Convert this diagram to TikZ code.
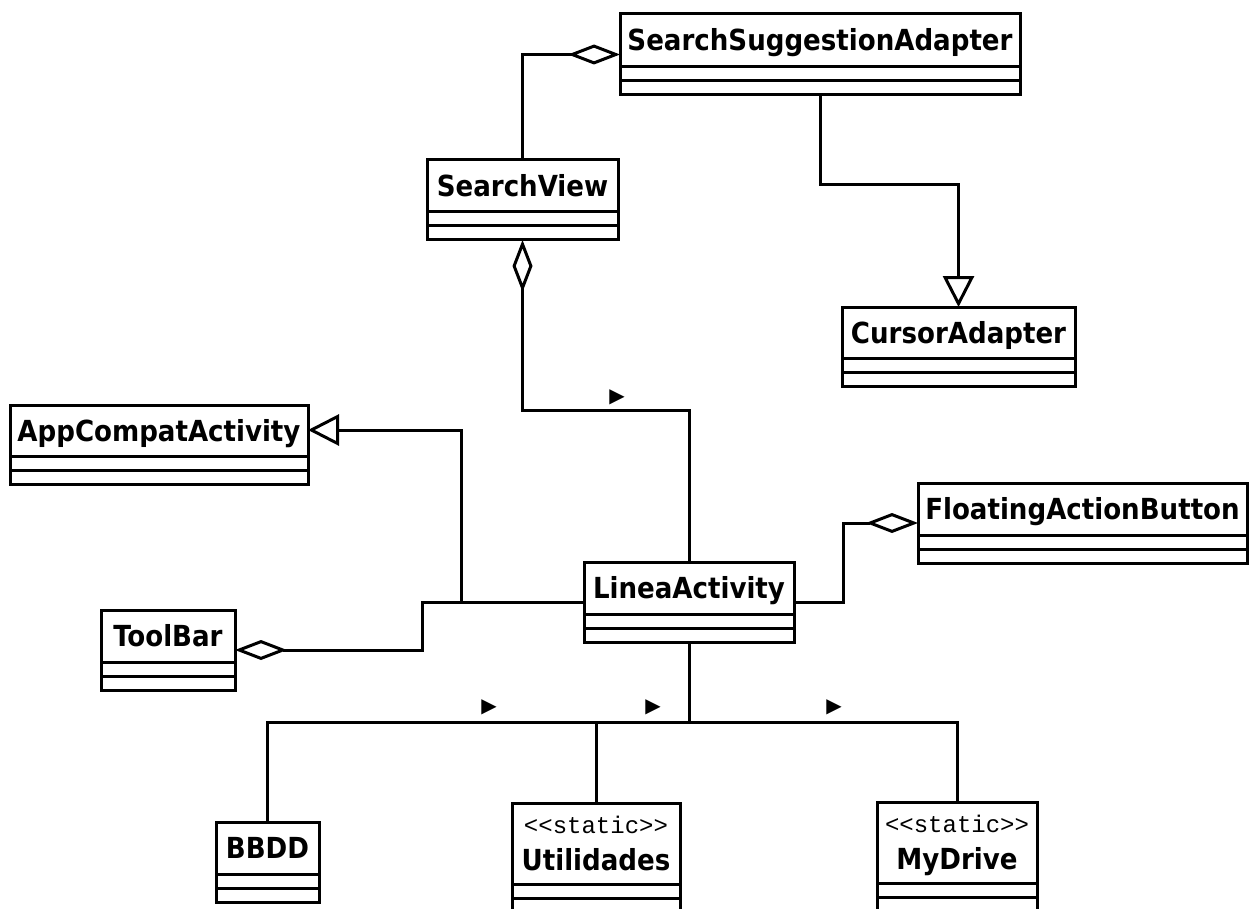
\documentclass[tikz,border=0pt]{standalone}
\usepackage{fontspec}
\setmainfont{DejaVu Sans}
\newfontfamily\classfont{DejaVu Sans Condensed}
\newfontfamily\stereofont{Liberation Mono}
\usetikzlibrary{arrows.meta}

\tikzset{
  classbox/.style={draw, line width=3pt, inner sep=0pt, outer sep=0pt, anchor=north west, fill=white},
  sepline/.style={line width=3pt},
  classname/.style={font=\classfont\bfseries\fontsize{29}{33}\selectfont, inner sep=0pt, anchor=base},
  stereotype/.style={font=\stereofont\fontsize{24}{28}\selectfont, inner sep=0pt, anchor=base},
  conn/.style={line width=3pt},
  aggr/.style={conn, -{Diamond[open, length=52pt, width=20pt, line width=3pt]}},
  gen/.style={conn, -{Triangle[open, length=31pt, width=31pt, line width=3pt]}},
  dirmark/.style={font=\fontsize{20}{20}\selectfont, inner sep=0pt},
}

% class box: name, left x, top y, width, header height, class name
\newcommand\umlclass[6]{%
  \node[classbox, minimum width={#4*1pt}, minimum height={(#5+28)*1pt}] (#1) at (#2,#3) {};
  \draw[sepline] (#2,#3+#5) -- (#2+#4,#3+#5);
  \draw[sepline] (#2,#3+#5+14) -- (#2+#4,#3+#5+14);
  \node[classname] (#1-name) at (#2+#4/2,#3+#5/2+10.5) {#6};
}
% class box with a <<static>> stereotype above the name
\newcommand\umlstatic[6]{%
  \node[classbox, minimum width={#4*1pt}, minimum height={(#5+28)*1pt}] (#1) at (#2,#3) {};
  \draw[sepline] (#2,#3+#5) -- (#2+#4,#3+#5);
  \draw[sepline] (#2,#3+#5+14) -- (#2+#4,#3+#5+14);
  \node[stereotype] (#1-st) at (#2+#4/2,#3+30) {<<static>>};
  \node[classname] (#1-name) at (#2+#4/2,#3+67) {#6};
}

\begin{document}
\begin{tikzpicture}[x=1pt, y=-1pt]
  \clip (0,0) rectangle (1257,909);
  \fill[white] (0,0) rectangle (1257,909);

  % classes
  \umlclass{ssa}{620}{14}{400}{53}{SearchSuggestionAdapter}
  \umlclass{sv}{427}{160}{191}{52}{SearchView}
  \umlclass{ca}{842}{307}{233}{51}{CursorAdapter}
  \umlclass{aca}{10}{405}{298}{51}{AppCompatActivity}
  \umlclass{fab}{918}{483}{329}{52}{FloatingActionButton}
  \umlclass{la}{584}{562}{210}{52}{LineaActivity}
  \umlclass{tb}{101}{610}{134}{52}{ToolBar}
  \umlclass{bbdd}{216}{822}{103}{52}{BBDD}
  \umlstatic{ut}{512}{803}{168}{81}{Utilidades}
  \umlstatic{md}{877}{802}{160}{81}{MyDrive}

  % SearchView -- SearchSuggestionAdapter (aggregation)
  \draw[aggr] (sv.north) |- (ssa.west);
  % SearchSuggestionAdapter extends CursorAdapter
  \draw[gen] (ssa.south) -- (ssa.south |- 0,185) -| (ca.north);
  % LineaActivity -- SearchView (aggregation)
  \draw[aggr] (la.north) -- (la.north |- 0,410) -| (sv.south);
  \node[dirmark] (m0) at (617,397) {▶};
  % LineaActivity extends AppCompatActivity
  \draw[gen] (la.west) -| (461,430) -- (aca.east |- 0,430);
  % LineaActivity -- ToolBar (aggregation)
  \draw[aggr] (la.west) -| (tb.east -| 422,0) -- (tb.east);
  % LineaActivity -- FloatingActionButton (aggregation)
  \draw[aggr] (la.east) -| (fab.west -| 843,0) -- (fab.west);
  % LineaActivity uses BBDD, Utilidades, MyDrive
  \coordinate (bus) at (la.south |- 0,722);
  \draw[conn] (la.south) -- (bus);
  \draw[conn] (bus) -| (bbdd.north);
  \draw[conn] (bus) -| (ut.north);
  \draw[conn] (bus) -| (md.north);
  \node[dirmark] (m1) at (489,707) {▶};
  \node[dirmark] (m2) at (653,707) {▶};
  \node[dirmark] (m3) at (834,707) {▶};
\end{tikzpicture}
\end{document}
